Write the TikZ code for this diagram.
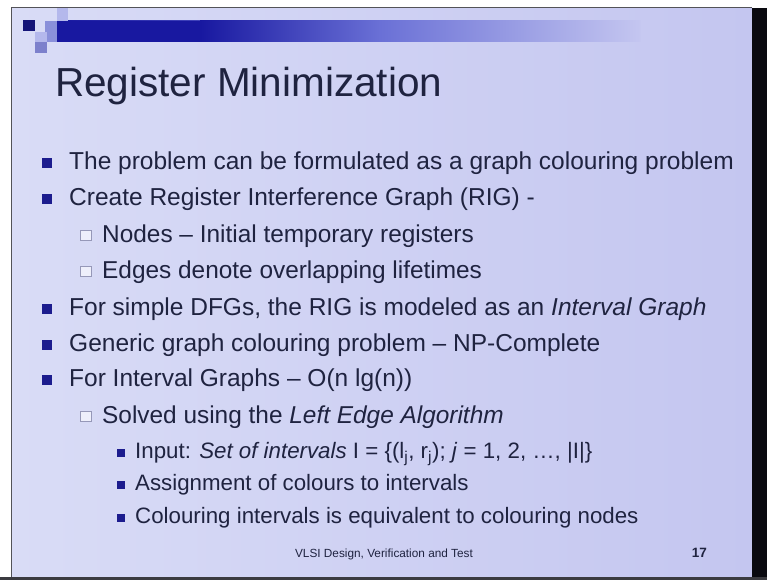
\documentclass[tikz,border=0pt]{standalone}
\usepackage{fontspec}
\setmainfont{Liberation Sans}
\definecolor{slidebg}{HTML}{D9DCF6}
\definecolor{slidebgR}{HTML}{C4C6F0}
\definecolor{txt}{HTML}{1F2340}
\definecolor{bul}{HTML}{1C1C8E}
\definecolor{barD}{HTML}{1818A0}
\definecolor{barM}{HTML}{6A70D6}
\definecolor{hollow}{HTML}{9698B8}
\definecolor{frame}{HTML}{0A0A10}
\definecolor{pxA}{HTML}{151578}
\definecolor{pxB}{HTML}{8A90DA}
\definecolor{pxC}{HTML}{B4B8EC}
\definecolor{pxD}{HTML}{7C80CC}
\tikzset{
  lone/.style={anchor=base west,inner sep=0pt,text=txt,font=\fontsize{24.5}{29}\selectfont},
  ltwo/.style={anchor=base west,inner sep=0pt,text=txt,font=\fontsize{24.4}{29}\selectfont},
  lthree/.style={anchor=base west,inner sep=0pt,text=txt,font=\fontsize{22.3}{27}\selectfont},
  bulone/.style={fill=bul,draw=none},
  bultwo/.style={fill=white!55!slidebg,draw=hollow,line width=1pt},
}
\begin{document}
\begin{tikzpicture}[x=1pt,y=-1pt]
\useasboundingbox (0,0) rectangle (767,580);
\fill[white] (0,0) rectangle (767,580);
% slide background
\shade[left color=slidebg,right color=slidebgR] (12,8) rectangle (752,577);
% frame
\fill[frame] (752,8) rectangle (767,580);
\fill[frame!80!white] (0,577) rectangle (767,580);
\fill[frame!70!white] (10.5,7) rectangle (12,577);
\fill[frame!70!white] (10.5,7) rectangle (752,8);
% title bar
\shade[left color=barD,right color=slidebgR,middle color=barM] (57,21) rectangle (640,42);
\fill[barD] (57,21) rectangle (200,42);
\shade[left color=barD,right color=barM] (200,21) rectangle (380,42);
\shade[left color=barM,right color=slidebgR] (380,21) rectangle (640,42);
% pixel squares
\fill[pxA] (23,20) rectangle (35,31);
\fill[pxC] (57,8) rectangle (68,21);
\fill[pxB] (45,21) rectangle (57,32);
\fill[pxC] (35,32) rectangle (47,42);
\fill[pxB] (47,32) rectangle (57,42);
\fill[pxD] (35,42) rectangle (47,53);
% title
\node[anchor=base west,inner sep=0pt,text=txt,font=\fontsize{40.5}{48}\selectfont] (title) at (55,97) {Register Minimization};
% level 1 bullets
\foreach \yy/\nm in {169/ba,205/bb,315/be,351/bf,386/bg}{
  \fill[bulone] (42,\yy-11) rectangle (52,\yy-1);
}
\node[lone] (la) at (69,169) {The problem can be formulated as a graph colouring problem};
\node[lone] (lb) at (69,205) {Create Register Interference Graph (RIG) -};
\node[lone] (le) at (69,315) {For simple DFGs, the RIG is modeled as an \textit{Interval Graph}};
\node[lone] (lf) at (69,351) {Generic graph colouring problem – NP-Complete};
\node[lone] (lg) at (69,386) {For Interval Graphs – O(n lg(n))};
% level 2
\foreach \yy in {242,278,423}{
  \filldraw[bultwo] (80.5,\yy-11.5) rectangle (91.5,\yy-1.5);
}
\node[ltwo] (lc) at (102,242) {Nodes – Initial temporary registers};
\node[ltwo] (ld) at (102,278) {Edges denote overlapping lifetimes};
\node[ltwo] (lh) at (102,423) {Solved using the \textit{Left Edge Algorithm}};
% level 3
\foreach \yy in {458,490,523}{
  \fill[bulone] (117,\yy-9) rectangle (125,\yy-1);
}
\node[lthree] (li) at (135,458) {Input: \textit{Set of intervals} I = \{(l\textsubscript{j}, r\textsubscript{j}); \textit{j} = 1, 2, …, |I|\}};
\node[lthree] (lj) at (135,490) {Assignment of colours to intervals};
\node[lthree] (lk) at (135,523) {Colouring intervals is equivalent to colouring nodes};
% footer
\node[anchor=base,inner sep=0pt,text=txt,font=\fontsize{11.8}{14}\selectfont] (foot) at (384,557) {VLSI Design, Verification and Test};
\node[anchor=base east,inner sep=0pt,text=txt,font=\bfseries\fontsize{13.5}{16}\selectfont] (pnum) at (707,557) {17};
\end{tikzpicture}
\end{document}
